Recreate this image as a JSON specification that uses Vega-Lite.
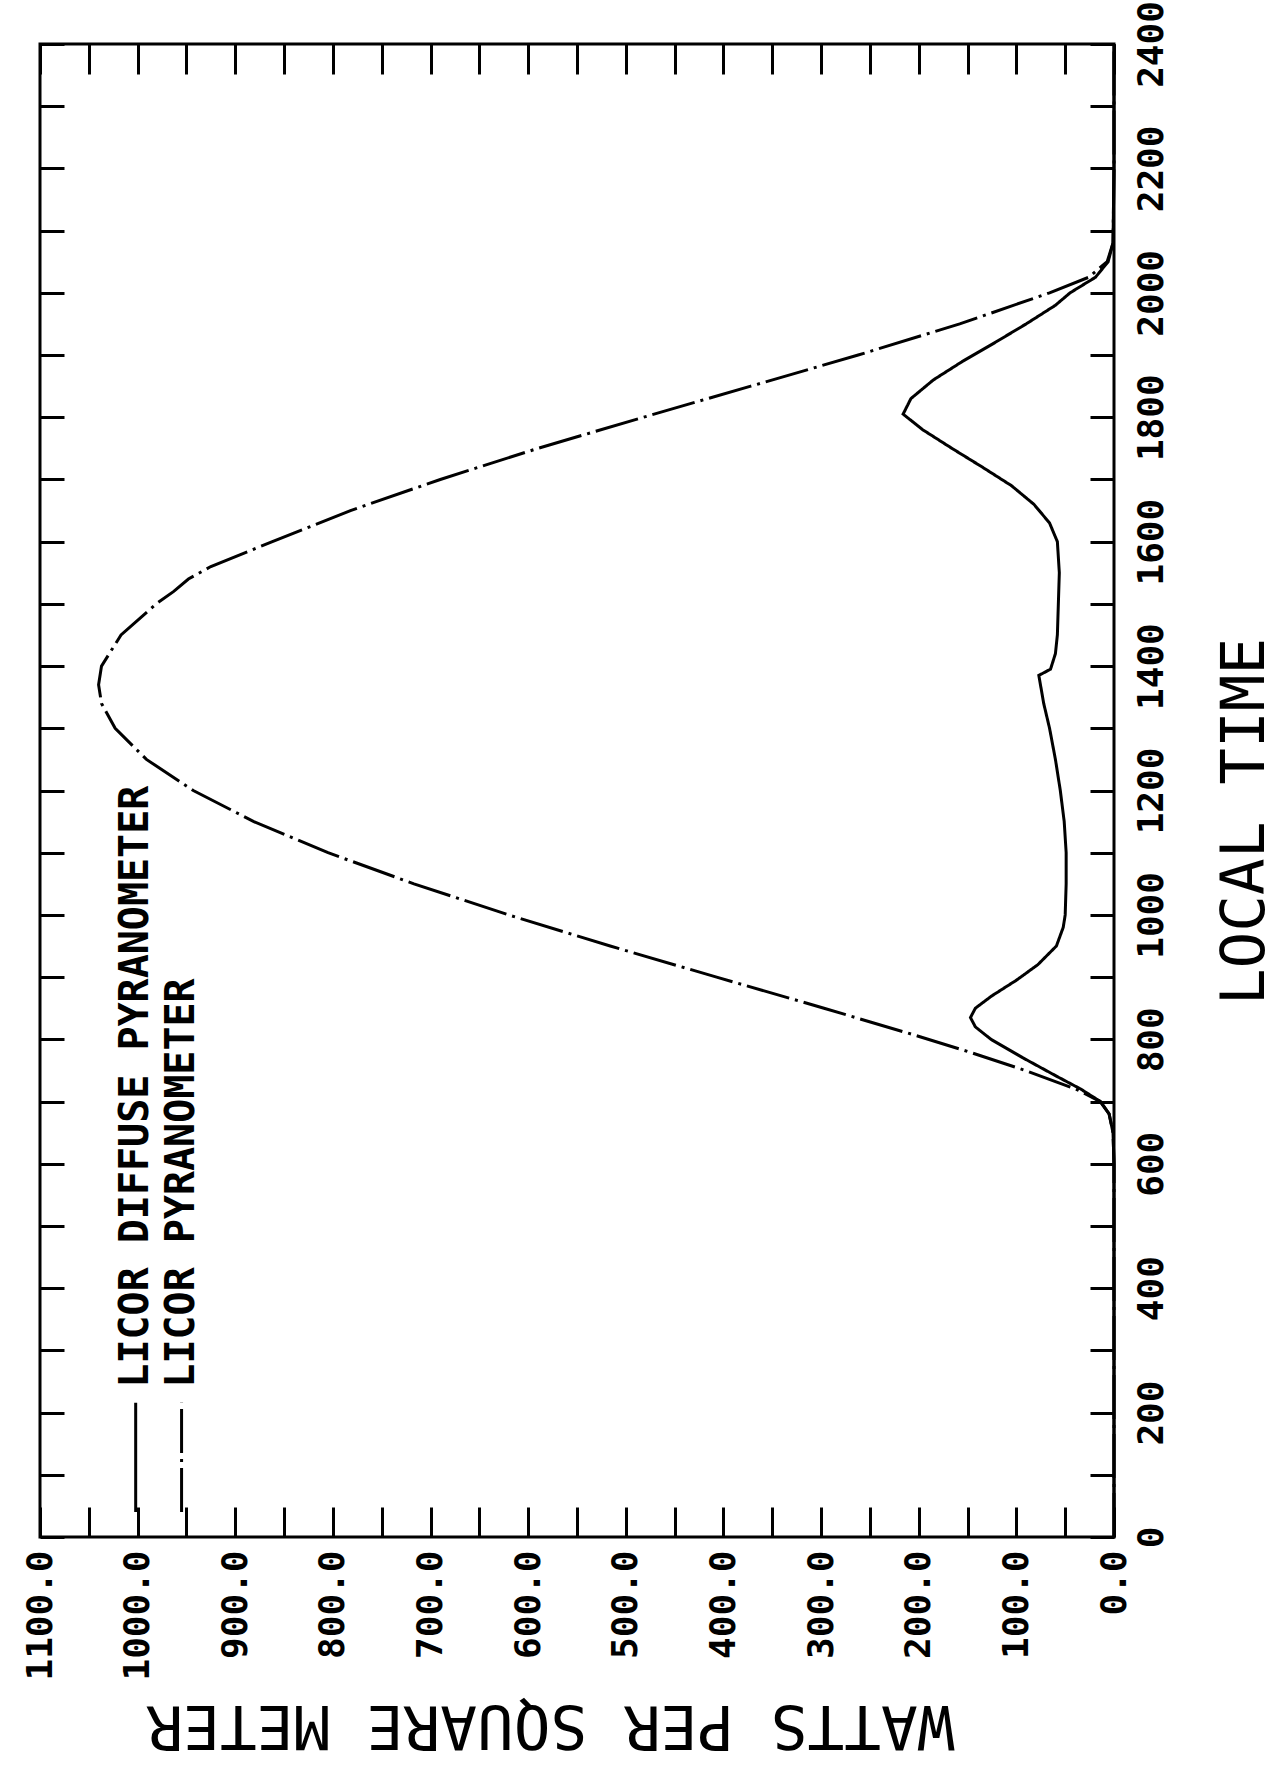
{
  "$schema": "https://vega.github.io/schema/vega-lite/v6.json",
  "width": 1074,
  "height": 1493,
  "autosize": {"type": "none"},
  "padding": {"left": 40, "top": 44, "right": 165, "bottom": 239},
  "background": "white",
  "config": {
    "view": {"stroke": "black", "strokeWidth": 3},
    "font": "DejaVu Sans Mono",
    "axis": {
      "domain": false, "grid": false, "tickColor": "black", "tickWidth": 3,
      "labelColor": "black", "titleColor": "black",
      "labelFont": "DejaVu Sans Mono", "titleFont": "DejaVu Sans Mono",
      "labelFontWeight": "bold",
      "titleFontWeight": "normal", "labelOverlap": false, "labelFlush": false, "labelBound": false
    }
  },
  "datasets": {
    "curves": [
      {"series": "LICOR DIFFUSE PYRANOMETER", "T": 0, "W": 0},
      {"series": "LICOR DIFFUSE PYRANOMETER", "T": 100, "W": 0},
      {"series": "LICOR DIFFUSE PYRANOMETER", "T": 200, "W": 0},
      {"series": "LICOR DIFFUSE PYRANOMETER", "T": 300, "W": 0},
      {"series": "LICOR DIFFUSE PYRANOMETER", "T": 400, "W": 0},
      {"series": "LICOR DIFFUSE PYRANOMETER", "T": 500, "W": 0},
      {"series": "LICOR DIFFUSE PYRANOMETER", "T": 600, "W": 0},
      {"series": "LICOR DIFFUSE PYRANOMETER", "T": 650, "W": 1},
      {"series": "LICOR DIFFUSE PYRANOMETER", "T": 680, "W": 5},
      {"series": "LICOR DIFFUSE PYRANOMETER", "T": 700, "W": 14},
      {"series": "LICOR DIFFUSE PYRANOMETER", "T": 720, "W": 34},
      {"series": "LICOR DIFFUSE PYRANOMETER", "T": 740, "W": 58},
      {"series": "LICOR DIFFUSE PYRANOMETER", "T": 770, "W": 93},
      {"series": "LICOR DIFFUSE PYRANOMETER", "T": 800, "W": 126},
      {"series": "LICOR DIFFUSE PYRANOMETER", "T": 820, "W": 142},
      {"series": "LICOR DIFFUSE PYRANOMETER", "T": 835, "W": 147},
      {"series": "LICOR DIFFUSE PYRANOMETER", "T": 850, "W": 142},
      {"series": "LICOR DIFFUSE PYRANOMETER", "T": 870, "W": 125},
      {"series": "LICOR DIFFUSE PYRANOMETER", "T": 895, "W": 100},
      {"series": "LICOR DIFFUSE PYRANOMETER", "T": 920, "W": 78},
      {"series": "LICOR DIFFUSE PYRANOMETER", "T": 950, "W": 59},
      {"series": "LICOR DIFFUSE PYRANOMETER", "T": 980, "W": 52},
      {"series": "LICOR DIFFUSE PYRANOMETER", "T": 1000, "W": 50},
      {"series": "LICOR DIFFUSE PYRANOMETER", "T": 1050, "W": 49},
      {"series": "LICOR DIFFUSE PYRANOMETER", "T": 1100, "W": 49},
      {"series": "LICOR DIFFUSE PYRANOMETER", "T": 1150, "W": 51},
      {"series": "LICOR DIFFUSE PYRANOMETER", "T": 1200, "W": 55},
      {"series": "LICOR DIFFUSE PYRANOMETER", "T": 1250, "W": 60},
      {"series": "LICOR DIFFUSE PYRANOMETER", "T": 1300, "W": 66},
      {"series": "LICOR DIFFUSE PYRANOMETER", "T": 1340, "W": 72},
      {"series": "LICOR DIFFUSE PYRANOMETER", "T": 1385, "W": 77},
      {"series": "LICOR DIFFUSE PYRANOMETER", "T": 1395, "W": 65},
      {"series": "LICOR DIFFUSE PYRANOMETER", "T": 1420, "W": 60},
      {"series": "LICOR DIFFUSE PYRANOMETER", "T": 1450, "W": 58},
      {"series": "LICOR DIFFUSE PYRANOMETER", "T": 1500, "W": 57},
      {"series": "LICOR DIFFUSE PYRANOMETER", "T": 1550, "W": 56},
      {"series": "LICOR DIFFUSE PYRANOMETER", "T": 1600, "W": 58},
      {"series": "LICOR DIFFUSE PYRANOMETER", "T": 1630, "W": 66},
      {"series": "LICOR DIFFUSE PYRANOMETER", "T": 1660, "W": 82},
      {"series": "LICOR DIFFUSE PYRANOMETER", "T": 1690, "W": 105},
      {"series": "LICOR DIFFUSE PYRANOMETER", "T": 1720, "W": 135},
      {"series": "LICOR DIFFUSE PYRANOMETER", "T": 1750, "W": 166},
      {"series": "LICOR DIFFUSE PYRANOMETER", "T": 1780, "W": 196},
      {"series": "LICOR DIFFUSE PYRANOMETER", "T": 1805, "W": 216},
      {"series": "LICOR DIFFUSE PYRANOMETER", "T": 1830, "W": 208},
      {"series": "LICOR DIFFUSE PYRANOMETER", "T": 1860, "W": 185},
      {"series": "LICOR DIFFUSE PYRANOMETER", "T": 1890, "W": 155},
      {"series": "LICOR DIFFUSE PYRANOMETER", "T": 1920, "W": 122},
      {"series": "LICOR DIFFUSE PYRANOMETER", "T": 1950, "W": 90},
      {"series": "LICOR DIFFUSE PYRANOMETER", "T": 1980, "W": 60},
      {"series": "LICOR DIFFUSE PYRANOMETER", "T": 2000, "W": 45},
      {"series": "LICOR DIFFUSE PYRANOMETER", "T": 2025, "W": 19},
      {"series": "LICOR DIFFUSE PYRANOMETER", "T": 2050, "W": 6},
      {"series": "LICOR DIFFUSE PYRANOMETER", "T": 2080, "W": 1},
      {"series": "LICOR DIFFUSE PYRANOMETER", "T": 2200, "W": 0},
      {"series": "LICOR DIFFUSE PYRANOMETER", "T": 2300, "W": 0},
      {"series": "LICOR DIFFUSE PYRANOMETER", "T": 2400, "W": 0},
      {"series": "LICOR PYRANOMETER", "T": 0, "W": 0},
      {"series": "LICOR PYRANOMETER", "T": 100, "W": 0},
      {"series": "LICOR PYRANOMETER", "T": 200, "W": 0},
      {"series": "LICOR PYRANOMETER", "T": 300, "W": 0},
      {"series": "LICOR PYRANOMETER", "T": 400, "W": 0},
      {"series": "LICOR PYRANOMETER", "T": 500, "W": 0},
      {"series": "LICOR PYRANOMETER", "T": 600, "W": 0},
      {"series": "LICOR PYRANOMETER", "T": 650, "W": 1},
      {"series": "LICOR PYRANOMETER", "T": 680, "W": 5},
      {"series": "LICOR PYRANOMETER", "T": 700, "W": 14},
      {"series": "LICOR PYRANOMETER", "T": 720, "W": 39},
      {"series": "LICOR PYRANOMETER", "T": 750, "W": 91},
      {"series": "LICOR PYRANOMETER", "T": 780, "W": 149},
      {"series": "LICOR PYRANOMETER", "T": 810, "W": 211},
      {"series": "LICOR PYRANOMETER", "T": 850, "W": 297},
      {"series": "LICOR PYRANOMETER", "T": 900, "W": 407},
      {"series": "LICOR PYRANOMETER", "T": 950, "W": 516},
      {"series": "LICOR PYRANOMETER", "T": 1000, "W": 620},
      {"series": "LICOR PYRANOMETER", "T": 1050, "W": 717},
      {"series": "LICOR PYRANOMETER", "T": 1100, "W": 805},
      {"series": "LICOR PYRANOMETER", "T": 1150, "W": 881},
      {"series": "LICOR PYRANOMETER", "T": 1200, "W": 943},
      {"series": "LICOR PYRANOMETER", "T": 1250, "W": 991},
      {"series": "LICOR PYRANOMETER", "T": 1300, "W": 1023},
      {"series": "LICOR PYRANOMETER", "T": 1340, "W": 1037},
      {"series": "LICOR PYRANOMETER", "T": 1370, "W": 1040},
      {"series": "LICOR PYRANOMETER", "T": 1400, "W": 1037},
      {"series": "LICOR PYRANOMETER", "T": 1450, "W": 1017},
      {"series": "LICOR PYRANOMETER", "T": 1500, "W": 981},
      {"series": "LICOR PYRANOMETER", "T": 1520, "W": 963},
      {"series": "LICOR PYRANOMETER", "T": 1540, "W": 948},
      {"series": "LICOR PYRANOMETER", "T": 1560, "W": 925},
      {"series": "LICOR PYRANOMETER", "T": 1600, "W": 862},
      {"series": "LICOR PYRANOMETER", "T": 1650, "W": 782},
      {"series": "LICOR PYRANOMETER", "T": 1700, "W": 690},
      {"series": "LICOR PYRANOMETER", "T": 1750, "W": 590},
      {"series": "LICOR PYRANOMETER", "T": 1800, "W": 482},
      {"series": "LICOR PYRANOMETER", "T": 1850, "W": 372},
      {"series": "LICOR PYRANOMETER", "T": 1900, "W": 262},
      {"series": "LICOR PYRANOMETER", "T": 1950, "W": 158},
      {"series": "LICOR PYRANOMETER", "T": 2000, "W": 66},
      {"series": "LICOR PYRANOMETER", "T": 2025, "W": 26},
      {"series": "LICOR PYRANOMETER", "T": 2050, "W": 7},
      {"series": "LICOR PYRANOMETER", "T": 2080, "W": 1},
      {"series": "LICOR PYRANOMETER", "T": 2200, "W": 0},
      {"series": "LICOR PYRANOMETER", "T": 2300, "W": 0},
      {"series": "LICOR PYRANOMETER", "T": 2400, "W": 0}
    ],
    "legendText": [
      {"W": 1002, "T": 240, "label": "LICOR DIFFUSE PYRANOMETER"},
      {"W": 955, "T": 240, "label": "LICOR PYRANOMETER"}
    ],
    "legendLines": [
      {"W": 1002, "T0": 40, "T1": 216, "series": "LICOR DIFFUSE PYRANOMETER"},
      {"W": 955, "T0": 40, "T1": 216, "series": "LICOR PYRANOMETER"}
    ]
  },
  "layer": [
    {
      "data": {"name": "curves"},
      "mark": {"type": "line", "color": "black", "strokeWidth": 3},
      "encoding": {
        "x": {
          "field": "W", "type": "quantitative",
          "scale": {"domain": [0, 1100], "reverse": true, "nice": false, "zero": false},
          "axis": {
            "orient": "bottom",
            "values": [0, 50, 100, 150, 200, 250, 300, 350, 400, 450, 500, 550, 600, 650, 700, 750, 800, 850, 900, 950, 1000, 1050, 1100],
            "labelExpr": "datum.value % 100 === 0 ? format(datum.value, '.1f') : ''",
            "tickSize": -30,
            "labelPadding": 43,
            "labelAngle": 270,
            "labelAlign": "right",
            "labelBaseline": "middle",
            "labelFontSize": 36,
            "title": "WATTS PER SQUARE METER",
            "titleAngle": 180,
            "titleBaseline": "bottom",
            "titleFontSize": 61,
            "titlePadding": 12,
            "titleX": 510
          }
        },
        "y": {
          "field": "T", "type": "quantitative",
          "scale": {"domain": [0, 2400], "nice": false, "zero": false},
          "axis": {
            "orient": "right",
            "values": [0, 100, 200, 300, 400, 500, 600, 700, 800, 900, 1000, 1100, 1200, 1300, 1400, 1500, 1600, 1700, 1800, 1900, 2000, 2100, 2200, 2300, 2400],
            "format": "d",
            "labelExpr": "datum.value % 200 === 0 ? datum.label : ''",
            "tickSize": -24,
            "labelPadding": 44,
            "labelAngle": 270,
            "labelAlign": "center",
            "labelBaseline": "top",
            "labelFontSize": 36,
            "title": "LOCAL TIME",
            "titleAngle": 270,
            "titleBaseline": "top",
            "titleFontSize": 61,
            "titlePadding": 46,
            "titleY": 777
          }
        },
        "strokeDash": {
          "field": "series", "type": "nominal",
          "scale": {"domain": ["LICOR DIFFUSE PYRANOMETER", "LICOR PYRANOMETER"], "range": [[1, 0], [44, 6, 3, 6]]},
          "legend": null
        },
        "order": {"field": "T", "type": "quantitative"}
      }
    },
    {
      "data": {"name": "legendLines"},
      "mark": {"type": "rule", "color": "black", "strokeWidth": 3},
      "encoding": {
        "x": {
          "field": "W", "type": "quantitative",
          "scale": {"domain": [0, 1100], "reverse": true, "nice": false, "zero": false},
          "axis": {
            "orient": "top",
            "values": [0, 50, 100, 150, 200, 250, 300, 350, 400, 450, 500, 550, 600, 650, 700, 750, 800, 850, 900, 950, 1000, 1050, 1100],
            "labels": false, "tickSize": -30, "title": null
          }
        },
        "y": {
          "field": "T0", "type": "quantitative",
          "scale": {"domain": [0, 2400], "nice": false, "zero": false},
          "axis": {
            "orient": "left",
            "values": [0, 100, 200, 300, 400, 500, 600, 700, 800, 900, 1000, 1100, 1200, 1300, 1400, 1500, 1600, 1700, 1800, 1900, 2000, 2100, 2200, 2300, 2400],
            "labels": false, "tickSize": -24, "title": null
          }
        },
        "y2": {"field": "T1"},
        "strokeDash": {
          "field": "series", "type": "nominal",
          "scale": {"domain": ["LICOR DIFFUSE PYRANOMETER", "LICOR PYRANOMETER"], "range": [[1, 0], [44, 6, 3, 6]]},
          "legend": null
        }
      }
    },
    {
      "data": {"name": "legendText"},
      "mark": {"type": "text", "angle": 270, "align": "left", "baseline": "middle", "fontSize": 40, "fontWeight": "bold", "font": "DejaVu Sans Mono", "color": "black"},
      "encoding": {
        "x": {"field": "W", "type": "quantitative", "scale": {"domain": [0, 1100], "reverse": true, "nice": false, "zero": false}, "axis": null},
        "y": {"field": "T", "type": "quantitative", "scale": {"domain": [0, 2400], "nice": false, "zero": false}, "axis": null},
        "text": {"field": "label"}
      }
    }
  ],
  "resolve": {"axis": {"x": "independent", "y": "independent"}}
}
